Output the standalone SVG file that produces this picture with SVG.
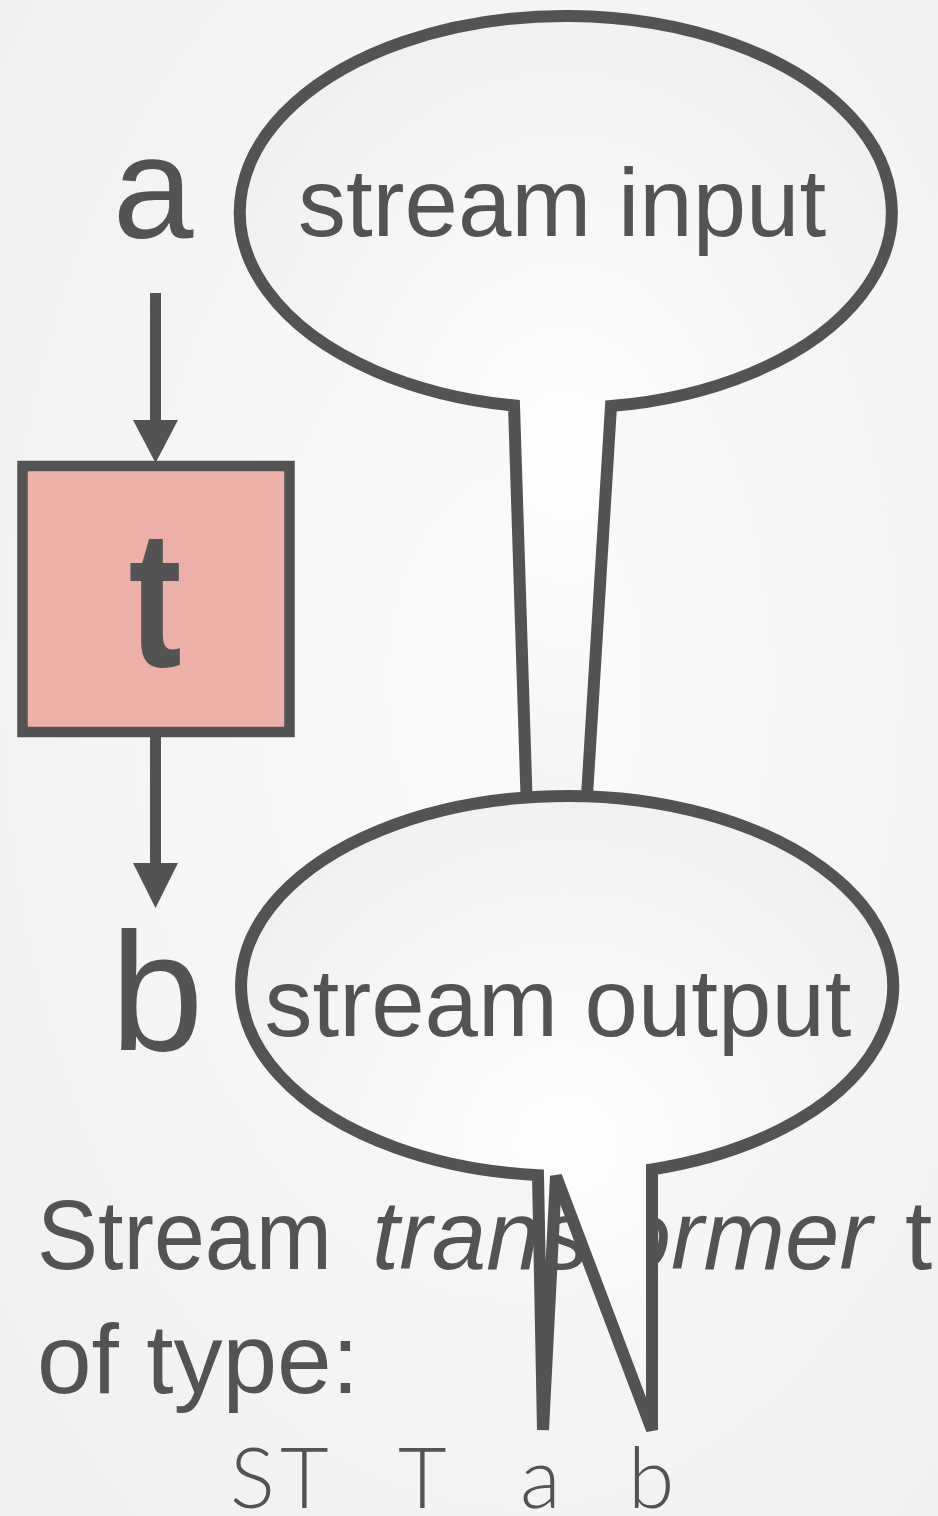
<svg xmlns="http://www.w3.org/2000/svg" width="938" height="1516" viewBox="0 0 938 1516">
  <defs>
    <radialGradient id="bg" cx="0.55" cy="0.45" r="0.75">
      <stop offset="0" stop-color="#fbfbfb"/>
      <stop offset="1" stop-color="#f0f0f0"/>
    </radialGradient>
    <radialGradient id="bubbleFill" cx="0.5" cy="0.55" r="0.6">
      <stop offset="0" stop-color="#ffffff"/>
      <stop offset="1" stop-color="#f0f0f0"/>
    </radialGradient>
    <style>
      .label { font-family: "Liberation Sans", Arial, sans-serif; fill: #535353; }
      .bubble { fill: url(#bubbleFill); stroke: #535353; stroke-width: 12; stroke-linejoin: miter; }
      .edge { stroke: #535353; stroke-width: 11; fill: none; }
      .head { fill: #535353; }
    </style>
  </defs>

  <rect width="938" height="1516" fill="url(#bg)"/>

  <!-- caption text, partly covered by the lower bubble's tail -->
  <g id="caption" class="label" font-size="98">
    <text y="1269"><tspan x="37" textLength="295" lengthAdjust="spacingAndGlyphs">Stream</tspan><tspan x="372" font-style="italic" textLength="500" lengthAdjust="spacingAndGlyphs">transformer</tspan><tspan x="905">t</tspan></text>
    <text y="1393" x="37" textLength="322" lengthAdjust="spacingAndGlyphs">of type:</text>
  </g>

  <!-- upper speech bubble -->
  <g id="bubble-input">
    <path class="bubble" d="M514,405.5 L527,812 L586,812 L611,406.1 A326,196 0 1 0 514,405.5 Z"/>
    <text class="label" x="562" y="236" font-size="96" text-anchor="middle">stream input</text>
  </g>

  <!-- lower speech bubble with its tail -->
  <g id="bubble-output">
    <path class="bubble" d="M538,1175.2 L543,1430 L556,1176 L652,1430 L652,1169.4 A326,190 0 1 0 538,1175.2 Z"/>
    <text class="label" x="558" y="1036" font-size="96" text-anchor="middle">stream output</text>
  </g>

  <!-- stream labels -->
  <g id="label-a">
    <text class="label" x="153" y="238" font-size="145" text-anchor="middle">a</text>
  </g>
  <g id="label-b">
    <text class="label" x="157" y="1050" font-size="168" text-anchor="middle">b</text>
  </g>

  <!-- transformer box -->
  <g id="node-t">
    <rect x="22.5" y="466" width="267" height="266" fill="#ecb0a8" stroke="#535353" stroke-width="10.5"/>
    <text class="label" font-size="195" font-weight="bold" text-anchor="middle" transform="translate(155,666) scale(0.82,1)">t</text>
  </g>

  <!-- type signature -->
  <g id="signature">
    <text font-family="Lato, 'Liberation Sans', sans-serif" font-weight="300" font-size="84" fill="#535353" y="1508"><tspan x="230">S</tspan><tspan x="280">T</tspan><tspan x="398">T</tspan><tspan x="520">a</tspan><tspan x="628">b</tspan></text>
  </g>

  <!-- connectors -->
  <g id="connectors">
    <line class="edge" x1="155.5" y1="293" x2="155.5" y2="424"/>
    <polygon class="head" points="133,420 178,420 155.5,463"/>
    <line class="edge" x1="155.5" y1="737" x2="155.5" y2="867"/>
    <polygon class="head" points="133,863 178,863 155.5,908"/>
  </g>
</svg>
